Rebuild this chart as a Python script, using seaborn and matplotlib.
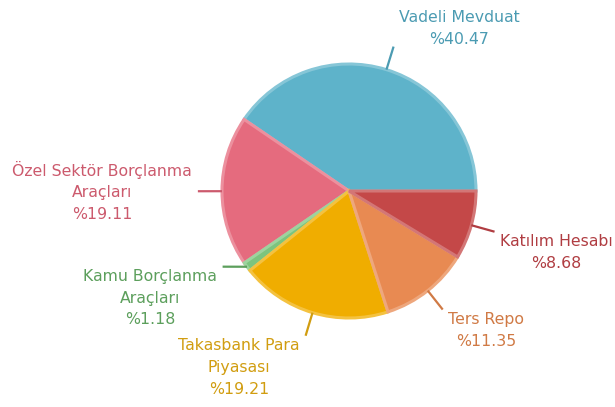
import numpy as np
import matplotlib
matplotlib.use("Agg")
import matplotlib.pyplot as plt
import matplotlib.colors as mcolors
import seaborn as sns

# ---- data ----
categories = ["Vadeli Mevduat", "Özel Sektör Borçlanma\nAraçları", "Kamu Borçlanma\nAraçları",
              "Takasbank Para\nPiyasası", "Ters Repo", "Katılım Hesabı"]
values = [40.47, 19.11, 1.18, 19.21, 11.35, 8.68]
value_labels = ["%40.47", "%19.11", "%1.18", "%19.21", "%11.35", "%8.68"]
slice_colors = ["#5eb3ca", "#e56b7e", "#7cc47e", "#f0ad00", "#e88a52", "#c44848"]
text_colors = ["#4b9bb2", "#cc5a6d", "#5c9f5c", "#d19d10", "#d07a45", "#b03d42"]

# leader-line end angle tweak (degrees) to avoid label crowding
leader_shift = [0, 0, -5.7, 0, 0, 0]

sns.set_theme(style="white")
plt.rcParams['font.family'] = ['DejaVu Sans']

W, H = 615, 407
fig = plt.figure(figsize=(W / 100, H / 100), dpi=100)
ax = fig.add_axes([0, 0, 1, 1])

R = 127.0
cx, cy = 349.0, 191.0  # pixel centre (from top)


def lighten(c, f):
    r, g, b = mcolors.to_rgb(c)
    return (r + (1 - r) * f, g + (1 - g) * f, b + (1 - b) * f)


wedges, _ = ax.pie(values, colors=slice_colors, startangle=0, counterclock=True,
                   radius=1.0, wedgeprops=dict(linewidth=2.2, edgecolor="white"))
for w, c in zip(wedges, slice_colors):
    w.set_edgecolor(lighten(c, 0.25))

ax.set_aspect("auto")
ax.set_xlim(-cx / R, (W - cx) / R)
ax.set_ylim(-(H - cy) / R, cy / R)
ax.axis("off")

cum = np.cumsum([0] + values)
total = sum(values)
for i, (lab, val) in enumerate(zip(categories, value_labels)):
    mid_deg = (cum[i] + cum[i + 1]) / 2 / total * 360
    mid = np.deg2rad(mid_deg)
    end = np.deg2rad(mid_deg + leader_shift[i])
    c, s = np.cos(mid), np.sin(mid)
    r_end = 1.19 if leader_shift[i] == 0 else 1.16
    x0, y0 = c * 1.0, s * 1.0
    x1, y1 = np.cos(end) * r_end, np.sin(end) * r_end
    ax.plot([x0, x1], [y0, y1], color=text_colors[i], lw=1.6, solid_capstyle="butt")
    ha = "left" if c >= 0 else "right"
    dx = 0.04 if c >= 0 else -0.045
    if s > 0.3:
        va, dy = "bottom", 0.0
    elif s < -0.2:
        va, dy = "top", -0.02
    else:
        va, dy = "center", 0.0
    ax.text(x1 + dx, y1 + dy, lab + "\n" + val, ha=ha, va=va, multialignment="center",
            color=text_colors[i], fontsize=11.3, linespacing=1.55)

fig.savefig("out.png", dpi=100, facecolor="white")
